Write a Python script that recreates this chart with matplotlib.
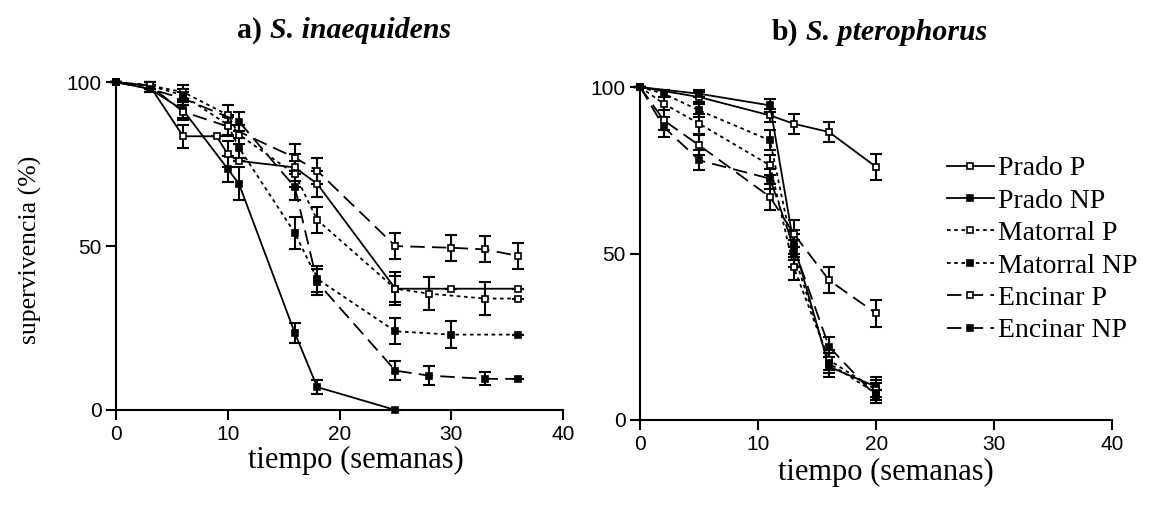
import matplotlib.pyplot as plt

plt.rcParams['font.family'] = ['Liberation Serif', 'DejaVu Serif']

# ---- a) S. inaequidens ----
a_t_prado_p = [0, 3, 6, 9, 10, 11, 16, 18, 25, 30, 36]
a_prado_p = [100, 99, 83.5, 83.5, 78, 76, 74, 69, 37, 37, 37]
a_prado_p_err = [0, 1, 3.5, 0, 4, 0, 4, 4, 5, 0, 0]

a_t_prado_np = [0, 3, 6, 10, 11, 16, 18, 25]
a_prado_np = [100, 98, 91.5, 73.5, 69, 23.5, 7, 0]
a_prado_np_err = [0, 1, 3, 4, 5, 3, 2, 0]

a_t_mat_p = [0, 3, 6, 10, 11, 16, 18, 25, 28, 33, 36]
a_mat_p = [100, 99, 97, 90, 84, 72, 58, 37, 35.5, 34, 34]
a_mat_p_err = [0, 1, 2, 3, 3, 4, 4, 4, 5, 5, 0]

a_t_mat_np = [0, 3, 6, 10, 11, 16, 18, 25, 30, 36]
a_mat_np = [100, 99, 96, 87, 80, 54, 40, 24, 23, 23]
a_mat_np_err = [0, 1, 2, 3, 3, 5, 4, 4, 4, 0]

a_t_enc_p = [0, 3, 6, 10, 16, 18, 25, 30, 33, 36]
a_enc_p = [100, 99, 91, 86.5, 77, 73, 50, 49.5, 49, 47]
a_enc_p_err = [0, 1, 2, 3, 4, 4, 4, 4, 4, 4]

a_t_enc_np = [0, 3, 6, 11, 16, 18, 25, 28, 33, 36]
a_enc_np = [100, 98, 95, 88, 68, 39, 12, 10.5, 9.5, 9.5]
a_enc_np_err = [0, 1, 2, 3, 4, 4, 3, 3, 2, 0]

# ---- b) S. pterophorus ----
b_t_prado = [0, 5, 11, 13, 16, 20]
b_prado_p = [100, 97, 91.5, 89, 86.5, 76]
b_prado_p_err = [0, 1.5, 2, 3, 3, 4]
b_prado_np = [100, 98, 94.5, 53, 16, 10]
b_prado_np_err = [0, 1, 2, 4, 3, 3]

b_t = [0, 2, 5, 11, 13, 16, 20]
b_mat_p = [100, 95, 89, 76.5, 46, 18, 9]
b_mat_p_err = [0, 2, 3, 3, 4, 3, 3]
b_mat_np = [100, 98, 93, 84, 50, 17, 8]
b_mat_np_err = [0, 1, 2, 3, 4, 3, 3]
b_enc_p = [100, 90, 82.5, 67, 56, 42, 32]
b_enc_p_err = [0, 3, 3, 4, 4, 4, 4]
b_enc_np = [100, 88, 78, 72.5, 52, 22, 7]
b_enc_np_err = [0, 3, 3, 3, 4, 3, 2]

labels = ['Prado P', 'Prado NP', 'Matorral P', 'Matorral NP', 'Encinar P', 'Encinar NP']
styles = ['-', '-', (0, (2, 2)), (0, (2, 2)), (0, (8, 4)), (0, (8, 4))]
faces = ['white', 'black', 'white', 'black', 'white', 'black']

series_a = [(a_t_prado_p, a_prado_p, a_prado_p_err),
            (a_t_prado_np, a_prado_np, a_prado_np_err),
            (a_t_mat_p, a_mat_p, a_mat_p_err),
            (a_t_mat_np, a_mat_np, a_mat_np_err),
            (a_t_enc_p, a_enc_p, a_enc_p_err),
            (a_t_enc_np, a_enc_np, a_enc_np_err)]
series_b = [(b_t_prado, b_prado_p, b_prado_p_err),
            (b_t_prado, b_prado_np, b_prado_np_err),
            (b_t, b_mat_p, b_mat_p_err),
            (b_t, b_mat_np, b_mat_np_err),
            (b_t, b_enc_p, b_enc_p_err),
            (b_t, b_enc_np, b_enc_np_err)]

fig = plt.figure(figsize=(11.64, 5.09), dpi=100)
ax1 = fig.add_axes([0.0997, 0.1945, 0.384, 0.644])
ax2 = fig.add_axes([0.550, 0.1749, 0.4055, 0.654])


def draw(ax, series):
    handles = []
    for (t, v, e), lab, ls, fc in zip(series, labels, styles, faces):
        ax.errorbar(t, v, yerr=e, fmt='none', ecolor='black', elinewidth=1.5,
                    capsize=4, capthick=1.5, clip_on=False, zorder=2)
        h, = ax.plot(t, v, color='black', linestyle=ls, linewidth=1.3,
                     marker='s', markersize=5, markerfacecolor=fc,
                     markeredgecolor='black', markeredgewidth=1.2,
                     clip_on=False, zorder=3, label=lab)
        handles.append(h)
    ax.set_xlim(0, 40)
    ax.set_ylim(0, 100)
    ax.set_xticks([0, 10, 20, 30, 40])
    ax.set_yticks([0, 50, 100])
    for s in ['top', 'right']:
        ax.spines[s].set_visible(False)
    for s in ['left', 'bottom']:
        ax.spines[s].set_linewidth(1.5)
    ax.tick_params(direction='out', length=7, width=1.5, labelsize=15)
    for lbl in ax.get_xticklabels() + ax.get_yticklabels():
        lbl.set_family('Liberation Sans')
    return handles


draw(ax1, series_a)
handles = draw(ax2, series_b)

# axis labels placed by figure pixel position
W, H = 1164, 509
fig.text(30 / W, 1 - 250 / H, 'supervivencia (%)', rotation=90,
         ha='center', va='center', fontsize=18.5)
fig.text(356 / W, 1 - 460 / H, 'tiempo (semanas)', ha='center', va='center',
         fontsize=22)
fig.text(886 / W, 1 - 472 / H, 'tiempo (semanas)', ha='center', va='center',
         fontsize=22)

ax2.legend(handles=handles, loc='upper left', bbox_to_anchor=(0.62, 0.835),
           frameon=False, fontsize=20, handlelength=1.7, handletextpad=0.15,
           labelspacing=0.25, borderpad=0)

fig.text(262 / W, 1 - 30 / H, 'a)', ha='right', va='center',
         fontsize=21.5, fontweight='bold')
fig.text(270 / W, 1 - 30 / H, 'S. inaequidens', ha='left', va='center',
         fontsize=21.5, fontweight='bold', fontstyle='italic')
fig.text(798 / W, 1 - 32 / H, 'b)', ha='right', va='center',
         fontsize=21.5, fontweight='bold')
fig.text(806 / W, 1 - 32 / H, 'S. pterophorus', ha='left', va='center',
         fontsize=21.5, fontweight='bold', fontstyle='italic')

fig.savefig('out.png', dpi=100)
